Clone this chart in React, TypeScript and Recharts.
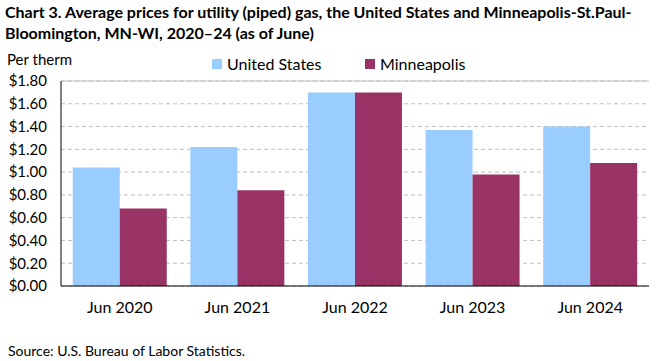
import React from "react";
import { BarChart, Bar, XAxis, YAxis, CartesianGrid, ReferenceLine } from "recharts";

const categories = ["Jun 2020", "Jun 2021", "Jun 2022", "Jun 2023", "Jun 2024"];
const unitedStates = [1.04, 1.22, 1.7, 1.37, 1.4];
const minneapolis = [0.68, 0.84, 1.7, 0.98, 1.08];
const yTicks = [0, 0.2, 0.4, 0.6, 0.8, 1.0, 1.2, 1.4, 1.6, 1.8];

const data = categories.map((c, i) => ({
  name: c,
  us: unitedStates[i],
  minn: minneapolis[i],
}));

const FONT = "Lato, 'Open Sans', sans-serif";
const US_COLOR = "#99ccff";
const MINN_COLOR = "#993366";

const legendItems = [
  { label: "United States", color: US_COLOR, left: 212 },
  { label: "Minneapolis", color: MINN_COLOR, left: 365 },
];

export default function App() {
  return (
    <div style={{ position: "absolute", left: 0, top: 0, width: 661, height: 361, background: "#fff", fontFamily: FONT }}>
      <div style={{ position: "absolute", left: 5, top: 1, fontSize: 16, fontWeight: 700, lineHeight: "21px", color: "#000" }}>
        Chart 3. Average prices for utility (piped) gas, the United States and Minneapolis-St.Paul-
        <br />
        Bloomington, MN-WI, 2020–24 (as of June)
      </div>
      <div style={{ position: "absolute", left: 7, top: 50, fontSize: 15, color: "#000" }}>Per therm</div>
      {legendItems.map((it) => (
        <div
          key={it.label}
          style={{ position: "absolute", left: it.left, top: 54, display: "flex", alignItems: "center", fontSize: 16, color: "#000" }}
        >
          <span style={{ width: 10, height: 10, background: it.color, display: "inline-block", marginRight: 5 }} />
          <span>{it.label}</span>
        </div>
      ))}
      <BarChart
        width={661}
        height={361}
        data={data}
        margin={{ top: 81, right: 12, left: 0, bottom: 45 }}
        barCategoryGap="10%"
        barGap={0}
      >
        <CartesianGrid vertical={false} stroke="#bfbfbf" strokeDasharray="4 3" yAxisId="left" />
        <ReferenceLine yAxisId="left" y={1.8} stroke="#bfbfbf" />
        <XAxis
          dataKey="name"
          tick={{ fontSize: 16, fill: "#000", fontFamily: FONT }}
          tickLine={false}
          axisLine={{ stroke: "#000" }}
          height={30}
          tickMargin={10}
        />
        <YAxis
          yAxisId="left"
          width={61}
          domain={[0, 1.8]}
          ticks={yTicks}
          tickFormatter={(v: number) => `$${v.toFixed(2)}`}
          tick={{ fontSize: 15, fill: "#000", fontFamily: FONT }}
          tickLine={false}
          axisLine={{ stroke: "#000" }}
          tickMargin={8}
          interval={0}
        />
        <YAxis yAxisId="right" orientation="right" width={0} tick={false} tickLine={false} axisLine={{ stroke: "#bfbfbf" }} />
        <Bar yAxisId="left" dataKey="us" name="United States" fill={US_COLOR} isAnimationActive={false} />
        <Bar yAxisId="left" dataKey="minn" name="Minneapolis" fill={MINN_COLOR} isAnimationActive={false} />
      </BarChart>
      <div style={{ position: "absolute", left: 8, top: 342, fontSize: 14, color: "#000" }}>
        Source: U.S. Bureau of Labor Statistics.
      </div>
    </div>
  );
}
